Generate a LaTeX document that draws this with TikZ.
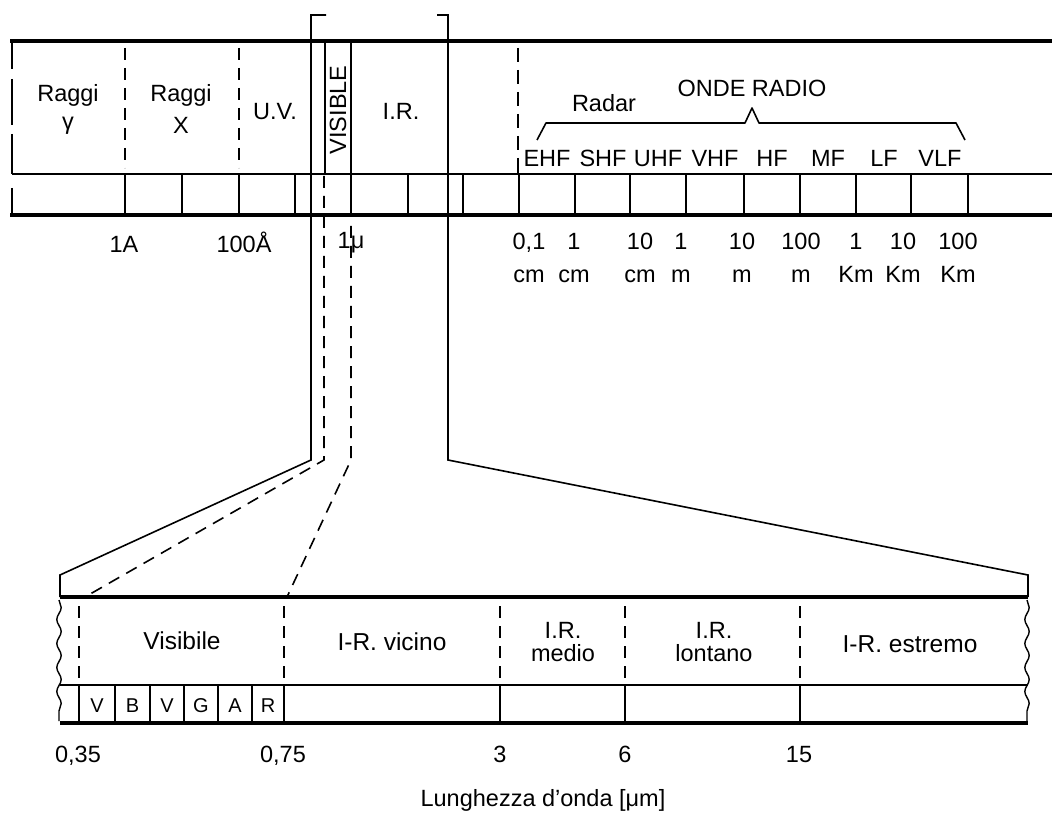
\documentclass[tikz,border=0pt]{standalone}
\usepackage{fontspec}
\setmainfont{Liberation Sans}
\usetikzlibrary{decorations.pathmorphing}
\begin{document}
\begin{tikzpicture}[x=1pt,y=-1pt,
  thickline/.style={line width=4pt},
  thinline/.style={line width=1.6pt},
  dashline/.style={line width=1.6pt,dash pattern=on 12pt off 8pt},
  lbl/.style={font=\fontsize{23.5}{26}\selectfont,inner sep=0pt,anchor=base},
  blbl/.style={font=\fontsize{24.5}{26}\selectfont,inner sep=0pt,anchor=base},
  small/.style={font=\fontsize{20}{22}\selectfont,inner sep=0pt,anchor=base},
  wavy/.style={line width=1.4pt,decorate,decoration={snake,amplitude=2.2pt,segment length=24pt}}
]
\useasboundingbox (0,0) rectangle (1052,818);
\fill[white] (0,0) rectangle (1052,818);

% ---------------- top band ----------------
\draw[thickline] (10,41) -- (1052,41);
\draw[thickline] (10,215) -- (1052,215);
\draw[thinline] (12,174) -- (1052,174);
\draw[thinline,dash pattern=on 28pt off 10pt on 46pt off 9pt on 40pt off 100pt] (12,41) -- (12,174);
\draw[thinline] (12,188) -- (12,215);
\foreach \x in {125,239} \draw[dashline] (\x,48) -- (\x,168);
\draw[dashline,dash pattern=on 14pt off 8pt on 14pt off 8pt on 14pt off 8pt on 14pt off 8pt on 14pt off 8pt on 22pt] (518,48) -- (518,173);
\draw[thinline] (325,41) -- (325,174);
\draw[thinline] (351,41) -- (351,215);
\foreach \x in {125,182,239,295,351,408,463,519,575,630,686,744,800,856,911,968}
  \draw[thinline] (\x,174) -- (\x,215);

% zoom bracket and projection lines
\coordinate (bl0) at (326,15);
\coordinate (bl1) at (311,15);
\coordinate (bl2) at (311,460);
\coordinate (bl3) at (60,575);
\coordinate (bl4) at (60,597);
\coordinate (br0) at (437,15);
\coordinate (br1) at (448,15);
\coordinate (br2) at (448,460);
\coordinate (br3) at (1028,575);
\coordinate (br4) at (1028,597);
\draw[thinline] (bl0) -- (bl1) -- (bl2) -- (bl3) -- (bl4);
\draw[thinline] (br0) -- (br1) -- (br2) -- (br3) -- (br4);
\coordinate (vl0) at (324,176);
\coordinate (vl1) at (324,460);
\coordinate (vl2) at (85,597);
\coordinate (vr0) at (351,226);
\coordinate (vr1) at (351,460);
\coordinate (vr2) at (287,597);
\draw[dashline] (vl0) -- (vl1) -- (vl2);
\draw[dashline] (vr0) -- (vr1) -- (vr2);

% top labels
\node[lbl] (rg1) at (68,102) {Raggi};
\node[lbl] (gam) at (68,130) {γ};
\node[lbl] (rg2) at (181,102) {Raggi};
\node[lbl] (rx) at (181,134) {X};
\node[lbl] (uv) at (275,120) {U.V.};
\node[font=\fontsize{23.5}{26}\selectfont,inner sep=0pt,rotate=90] (vis) at (338,110) {VISIBLE};
\node[lbl] (ir) at (401,120) {I.R.};
\node[lbl] (radar) at (604,112) {Radar};
\node[lbl] (onde) at (752,97) {ONDE RADIO};
\coordinate (b1) at (537,140);
\coordinate (b2) at (546,123);
\coordinate (b3) at (745,123);
\coordinate (b4) at (752,108);
\coordinate (b5) at (759,123);
\coordinate (b6) at (956,123);
\coordinate (b7) at (965,140);
\draw[thinline,line join=round] (b1) -- (b2) -- (b3) -- (b4) -- (b5) -- (b6) -- (b7);
\foreach \t/\x [count=\i] in {EHF/547,SHF/603,UHF/658,VHF/715,HF/772,MF/828,LF/884,VLF/940}
  \node[lbl] (band\i) at (\x,167) {\t};

% top scale labels
\node[lbl] (s1a) at (124,253) {1A};
\node[lbl] (s100a) at (244,253) {100Å};
\node[lbl] (s1mu) at (351,249) {1μ};
\foreach \a/\b/\x [count=\i] in {{0,1}/cm/529,1/cm/574,10/cm/640,1/m/681,10/m/742,100/m/801,1/Km/856,10/Km/903,100/Km/958}{
  \node[lbl] (ra\i) at (\x,250) {\a};
  \node[lbl] (rb\i) at (\x,283) {\b};
}

% ---------------- bottom band ----------------
\draw[thickline] (60,597) -- (1028,597);
\draw[thickline] (60,723) -- (1028,723);
\draw[thinline] (60,685) -- (1028,685);
\draw[wavy] (59,600) -- (59,721);
\draw[wavy] (1027,600) -- (1027,721);
\foreach \x in {79,284,500,625,800} \draw[dashline] (\x,606) -- (\x,680);
\foreach \x in {79,115,150,184,218,252,284,500,625,800} \draw[thinline] (\x,685) -- (\x,723);
\foreach \t/\x [count=\i] in {V/97,B/132.5,V/167,G/201,A/235,R/268}
  \node[small] (col\i) at (\x,712) {\t};

\node[blbl] (visb) at (182,649) {Visibile};
\node[blbl] (irv) at (392,650) {I-R. vicino};
\node[lbl] (irm1) at (563,638) {I.R.};
\node[lbl] (irm2) at (563,661) {medio};
\node[lbl] (irl1) at (714,638) {I.R.};
\node[lbl] (irl2) at (714,661) {lontano};
\node[blbl] (ire) at (910,652) {I-R. estremo};

\node[lbl] (b035) at (78,762) {0,35};
\node[lbl] (b075) at (283,762) {0,75};
\node[lbl] (b3) at (500,762) {3};
\node[lbl] (b6) at (625,762) {6};
\node[lbl] (b15) at (799,762) {15};
\node[lbl] (axis) at (543,806) {Lunghezza d'onda [μm]};
\end{tikzpicture}
\end{document}
